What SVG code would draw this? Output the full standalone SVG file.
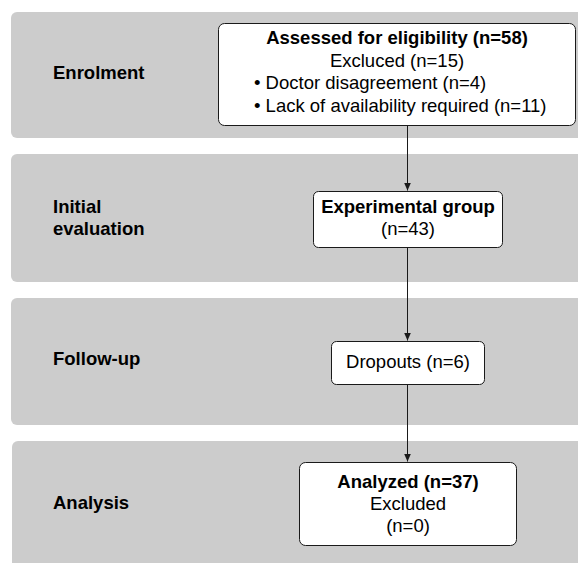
<svg xmlns="http://www.w3.org/2000/svg" width="578" height="563" viewBox="0 0 578 563">
<defs>
<style>
.band{fill:#cccccc;}
.box{fill:#ffffff;stroke:#1a1a1a;stroke-width:1;}
.lbl{font-family:"Liberation Sans",Arial,sans-serif;font-size:18.5px;font-weight:bold;fill:#000;}
.t{font-family:"Liberation Sans",Arial,sans-serif;font-size:18.5px;fill:#000;text-anchor:middle;}
.b{font-weight:bold;}
.l{text-anchor:start;}
.conn{stroke:#1a1a1a;stroke-width:1;fill:none;marker-end:url(#arr);}
</style>
<marker id="arr" markerUnits="userSpaceOnUse" markerWidth="8" markerHeight="8" viewBox="0 0 8 8" refX="8" refY="4" orient="auto">
<path d="M0,0.5 L8,4 L0,7.5 Z" fill="#1a1a1a"/>
</marker>
</defs>
<g id="bands">
<rect class="band" x="11" y="12" width="580" height="126" rx="6"/>
<rect class="band" x="11" y="154" width="580" height="128" rx="6"/>
<rect class="band" x="11" y="298" width="580" height="127" rx="6"/>
<rect class="band" x="12" y="441" width="580" height="140" rx="6"/>
</g>
<g id="stage-labels">
<text class="lbl" x="53" y="79">Enrolment</text>
<text class="lbl" x="53" y="213">Initial</text>
<text class="lbl" x="53" y="235">evaluation</text>
<text class="lbl" x="53" y="365">Follow-up</text>
<text class="lbl" x="53" y="509">Analysis</text>
</g>
<g id="connectors">
<line class="conn" x1="407.5" y1="125.5" x2="407.5" y2="190.5"/>
<line class="conn" x1="407.5" y1="247.5" x2="407.5" y2="340.5"/>
<line class="conn" x1="407.5" y1="384.5" x2="407.5" y2="461.5"/>
</g>
<g id="node-assessed">
<rect class="box" x="218.5" y="23.5" width="357" height="102" rx="6"/>
<text class="t b" x="397" y="44">Assessed for eligibility (n=58)</text>
<text class="t" x="397" y="66.5">Excluced (n=15)</text>
<text class="t l" x="254" y="89">• Doctor disagreement (n=4)</text>
<text class="t l" x="254" y="111.5">• Lack of availability required (n=11)</text>
</g>
<g id="node-experimental">
<rect class="box" x="313.5" y="191.5" width="189" height="56" rx="5"/>
<text class="t b" x="408" y="213">Experimental group</text>
<text class="t" x="408" y="234.5">(n=43)</text>
</g>
<g id="node-dropouts">
<rect class="box" x="331.5" y="341.5" width="153" height="43" rx="5"/>
<text class="t" x="408" y="368">Dropouts (n=6)</text>
</g>
<g id="node-analyzed">
<rect class="box" x="299.5" y="462.5" width="217" height="83" rx="6"/>
<text class="t b" x="408" y="488">Analyzed (n=37)</text>
<text class="t" x="408" y="510">Excluded</text>
<text class="t" x="408" y="531.5">(n=0)</text>
</g>
</svg>
